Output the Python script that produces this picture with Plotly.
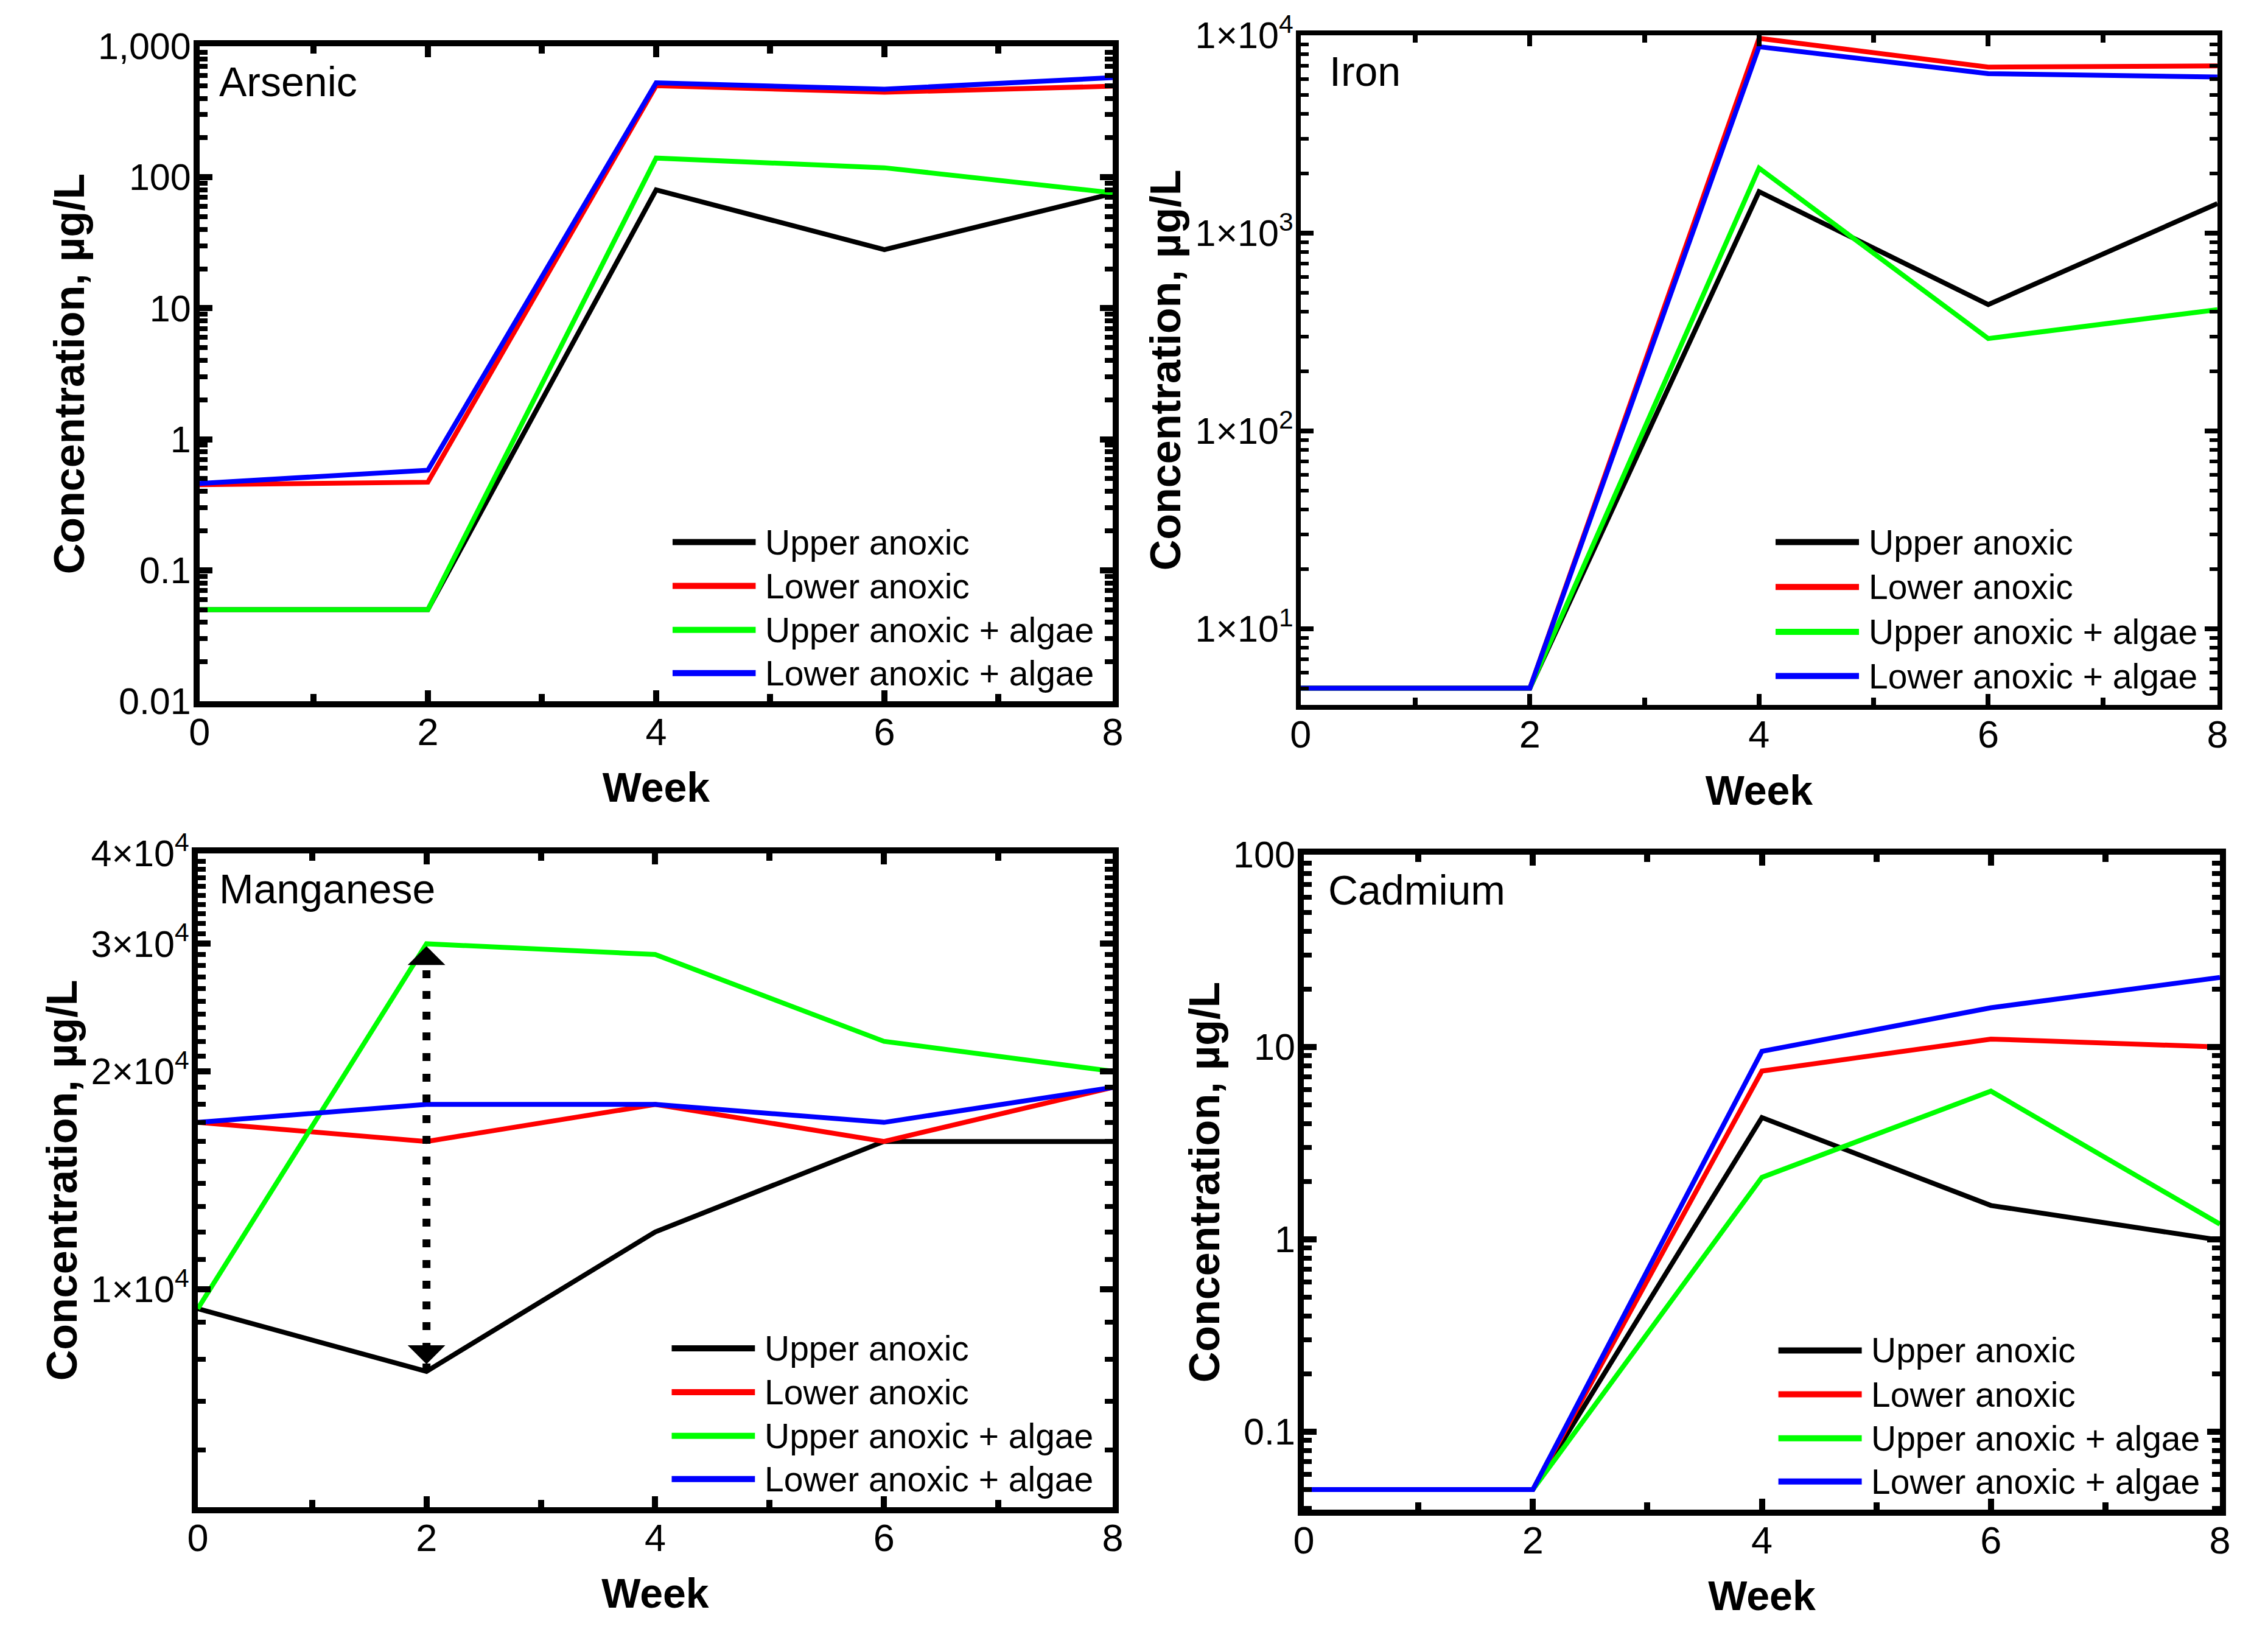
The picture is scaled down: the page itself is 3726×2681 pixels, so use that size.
import math
import plotly.graph_objects as go

# ---------------- data ----------------
weeks = [0, 2, 4, 6, 8]
series_names = ["Upper anoxic", "Lower anoxic", "Upper anoxic + algae", "Lower anoxic + algae"]
series_colors = ["#000000", "#ff0000", "#00ff00", "#0000ff"]

arsenic_upper = [0.05, 0.05, 80, 28, 75]
arsenic_lower = [0.45, 0.47, 500, 445, 495]
arsenic_upper_algae = [0.05, 0.05, 140, 118, 76]
arsenic_lower_algae = [0.46, 0.58, 525, 470, 575]

iron_upper = [5, 5, 1620, 435, 1410]
iron_lower = [5, 5, 9650, 6900, 7000]
iron_upper_algae = [5, 5, 2130, 293, 410]
iron_lower_algae = [5, 5, 8750, 6400, 6150]

manganese_upper = [9400, 7700, 12000, 16000, 16000]
manganese_lower = [17000, 16000, 18000, 16000, 19000]
manganese_upper_algae = [9400, 30000, 29000, 22000, 20000]
manganese_lower_algae = [17000, 18000, 18000, 17000, 19000]

cadmium_upper = [0.05, 0.05, 4.3, 1.5, 0.99]
cadmium_lower = [0.05, 0.05, 7.5, 11, 10]
cadmium_upper_algae = [0.05, 0.05, 2.1, 5.9, 1.2]
cadmium_lower_algae = [0.05, 0.05, 9.5, 16, 23]

x_tick_vals = [0, 2, 4, 6, 8]
x_tick_text = ["0", "2", "4", "6", "8"]
x_minor_vals = [1, 3, 5, 7]

arsenic_tick_vals = [0.01, 0.1, 1, 10, 100, 1000]
arsenic_tick_text = ["0.01", "0.1", "1", "10", "100", "1,000"]
iron_tick_vals = [10, 100, 1000, 10000]
iron_tick_text = ["1×10<sup>1</sup>", "1×10<sup>2</sup>", "1×10<sup>3</sup>", "1×10<sup>4</sup>"]
manganese_tick_vals = [10000, 20000, 30000, 40000]
manganese_tick_text = ["1×10<sup>4</sup>", "2×10<sup>4</sup>", "3×10<sup>4</sup>", "4×10<sup>4</sup>"]
cadmium_tick_vals = [0.1, 1, 10, 100]
cadmium_tick_text = ["0.1", "1", "10", "100"]

panel_titles = ["Arsenic", "Iron", "Manganese", "Cadmium"]
x_title = "Week"
y_title = "Concentration, µg/L"


def log_minor(lo_exp, hi_exp):
    return [m * 10 ** e for e in range(lo_exp, hi_exp) for m in range(2, 10)]


panels = [
    dict(name=panel_titles[0],
         series=[arsenic_upper, arsenic_lower, arsenic_upper_algae, arsenic_lower_algae],
         xdom=[0.0880, 0.4906], ydom=[0.5703, 0.9717],
         yrange=[-2, 3], tv=arsenic_tick_vals, tt=arsenic_tick_text,
         minor=log_minor(-2, 3), lw=10, title_x=0.020),
    dict(name=panel_titles[1],
         series=[iron_upper, iron_lower, iron_upper_algae, iron_lower_algae],
         xdom=[0.5735, 0.9777], ydom=[0.5681, 0.9784],
         yrange=[math.log10(4.12), 4], tv=iron_tick_vals, tt=iron_tick_text,
         minor=[v for v in log_minor(0, 4) if v >= 4], lw=8, title_x=0.030),
    dict(name=panel_titles[2],
         series=[manganese_upper, manganese_lower, manganese_upper_algae, manganese_lower_algae],
         xdom=[0.0872, 0.4906], ydom=[0.0765, 0.4771],
         yrange=[math.log10(5000), math.log10(40000)], tv=manganese_tick_vals, tt=manganese_tick_text,
         minor=[v for v in range(5000, 40000, 1000) if v % 10000 != 0], lw=10, title_x=0.022),
    dict(name=panel_titles[3],
         series=[cadmium_upper, cadmium_lower, cadmium_upper_algae, cadmium_lower_algae],
         xdom=[0.5749, 0.9788], ydom=[0.0750, 0.4763],
         yrange=[-1.405, 2], tv=cadmium_tick_vals, tt=cadmium_tick_text,
         minor=[v for v in log_minor(-2, 2) if v >= 0.04], lw=10, title_x=0.025),
]

FONT = "Liberation Sans, Arial, sans-serif"
W, H = 3726, 2681

fig = go.Figure()
layout = dict(
    width=W, height=H,
    margin=dict(l=0, r=0, t=0, b=0, autoexpand=False),
    paper_bgcolor="white", plot_bgcolor="white",
    showlegend=False,
    font=dict(family=FONT, color="black", size=56),
    annotations=[], shapes=[],
)

legend_rows = [0.243, 0.176, 0.109, 0.043]
LEG_X0, LEG_X1, LEG_TX = 0.518, 0.609, 0.618

for i, p in enumerate(panels):
    n = "" if i == 0 else str(i + 1)
    xa, ya = "x" + n, "y" + n
    for k, vals in enumerate(p["series"]):
        fig.add_trace(go.Scatter(
            x=weeks, y=vals, mode="lines", name=series_names[k],
            line=dict(color=series_colors[k], width=8),
            xaxis=xa, yaxis=ya, showlegend=False,
        ))
    lw = p["lw"]
    layout["xaxis" + n] = dict(
        domain=p["xdom"], anchor=ya, range=[0, 8], automargin=False,
        tickmode="array", tickvals=x_tick_vals, ticktext=x_tick_text,
        ticks="inside", ticklen=18, tickwidth=lw, tickcolor="black",
        minor=dict(tickmode="array", tickvals=x_minor_vals, ticks="inside",
                   ticklen=12, tickwidth=lw, tickcolor="black", showgrid=False),
        showline=True, linewidth=lw, linecolor="black", mirror="allticks",
        showgrid=False, zeroline=False,
        tickfont=dict(family=FONT, size=63, color="black"),
        ticklabelstandoff=-14,
        title=dict(text=x_title, standoff=38,
                   font=dict(family=FONT, size=68, color="black", weight="bold")),
    )
    layout["yaxis" + n] = dict(
        domain=p["ydom"], anchor=xa, type="log", range=p["yrange"], automargin=False,
        tickmode="array", tickvals=p["tv"], ticktext=p["tt"],
        ticks="inside", ticklen=21, tickwidth=lw, tickcolor="black",
        minor=dict(tickmode="array", tickvals=p["minor"], ticks="inside",
                   ticklen=13, tickwidth=lw - 2, tickcolor="black", showgrid=False),
        showline=True, linewidth=lw, linecolor="black", mirror="allticks",
        showgrid=False, zeroline=False,
        tickfont=dict(family=FONT, size=61, color="black"),
        ticklabelstandoff=-8,
        title=dict(text=y_title, standoff=4,
                   font=dict(family=FONT, size=70, color="black", weight="bold")),
    )
    # panel title
    layout["annotations"].append(dict(
        text=p["name"], xref=xa + " domain", yref=ya + " domain",
        x=p["title_x"], y=0.946, xanchor="left", yanchor="middle",
        showarrow=False, font=dict(family=FONT, size=68, color="black"),
    ))
    # legend (line samples + labels)
    for k, name in enumerate(series_names):
        layout["shapes"].append(dict(
            type="line", xref=xa + " domain", yref=ya + " domain",
            x0=LEG_X0, x1=LEG_X1, y0=legend_rows[k], y1=legend_rows[k],
            line=dict(color=series_colors[k], width=10),
        ))
        layout["annotations"].append(dict(
            text=name, xref=xa + " domain", yref=ya + " domain",
            x=LEG_TX, y=legend_rows[k], xanchor="left", yanchor="middle",
            showarrow=False, font=dict(family=FONT, size=57, color="black"),
        ))

# double-headed dotted arrow in the manganese panel (week 2, between two series)
arrow_week = weeks[1]
arrow_low = manganese_upper[1]
arrow_high = manganese_upper_algae[1]
fig.add_trace(go.Scatter(
    x=[arrow_week, arrow_week], y=[arrow_low, arrow_high], mode="lines",
    line=dict(color="black", width=13, dash="13px,21px"),
    xaxis="x3", yaxis="y3", showlegend=False, hoverinfo="skip",
))
for yv, ay, so in [(arrow_high, 30, 4), (arrow_low, -30, 12)]:
    layout["annotations"].append(dict(
        x=arrow_week, y=math.log10(yv), xref="x3", yref="y3",
        ax=0, ay=ay, axref="pixel", ayref="pixel", text="",
        showarrow=True, arrowhead=1, arrowsize=2.06, arrowwidth=5,
        arrowcolor="black", standoff=so,
    ))

fig.update_layout(**layout)
fig.write_html("out.html",
               config={"displayModeBar": False},
               post_script="document.body.style.margin='0px';document.body.style.overflow='hidden';")
